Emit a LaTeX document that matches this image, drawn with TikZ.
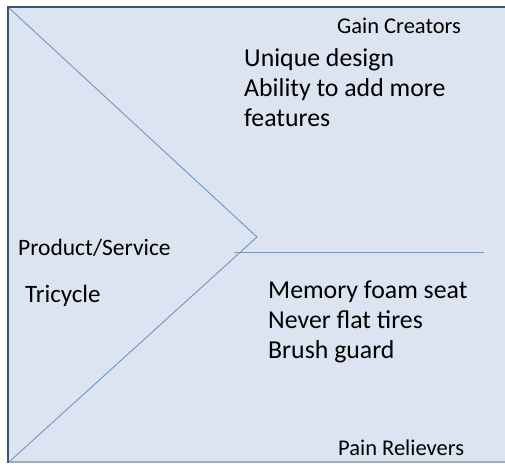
\documentclass[tikz,border=0pt]{standalone}
\usepackage{fontspec}
\setmainfont{Carlito}
\definecolor{nen}{HTML}{DBE4F0}
\definecolor{vien}{HTML}{3D5573}
\definecolor{vienduoi}{HTML}{A3AEBD}
\definecolor{duong}{HTML}{6E95CB}
\begin{document}
\begin{tikzpicture}[x=1pt,y=-1pt,
    nhan/.style={anchor=base west,inner sep=0pt,font=\fontsize{22.5}{27}\selectfont},
    noidung/.style={anchor=base west,inner sep=0pt,font=\fontsize{25.8}{30}\selectfont}]
	\useasboundingbox (0,0) rectangle (505,466);
	% nen va khung
	\fill[nen] (8,7) rectangle (505,462);
	\draw[vienduoi,line width=1.2pt] (8,462) -- (505,462);
	\draw[vien,line width=2pt] (8,463) -- (8,7) -- (505,7);
	% duong gap khuc va duong ngang
	\coordinate (tren) at (9,8);
	\coordinate (dinh) at (257,237);
	\coordinate (duoi) at (9,462);
	\coordinate (ngangtrai) at (234,252.5);
	\coordinate (ngangphai) at (484,252.5);
	\draw[duong,line width=0.9pt] (tren) -- (dinh) -- (duoi);
	\draw[duong,line width=1.1pt] (ngangtrai) -- (ngangphai);
	% chu
	\node[nhan] (gain) at (337,33) {Gain Creators};
	\node[noidung] (gain1) at (244,66.7) {Unique design};
	\node[noidung] (gain2) at (244,96.7) {Ability to add more};
	\node[noidung] (gain3) at (244,126.7) {features};
	\node[nhan,font=\fontsize{23.5}{27}\selectfont] (sp) at (18,255) {Product/Service};
	\node[noidung,font=\fontsize{25}{30}\selectfont] (xe) at (25,302.7) {Tricycle};
	\node[noidung] (pain1) at (268,298.3) {Memory foam seat};
	\node[noidung] (pain2) at (268,328.3) {Never flat tires};
	\node[noidung] (pain3) at (268,358.3) {Brush guard};
	\node[nhan] (pain) at (338,455) {Pain Relievers};
\end{tikzpicture}
\end{document}
